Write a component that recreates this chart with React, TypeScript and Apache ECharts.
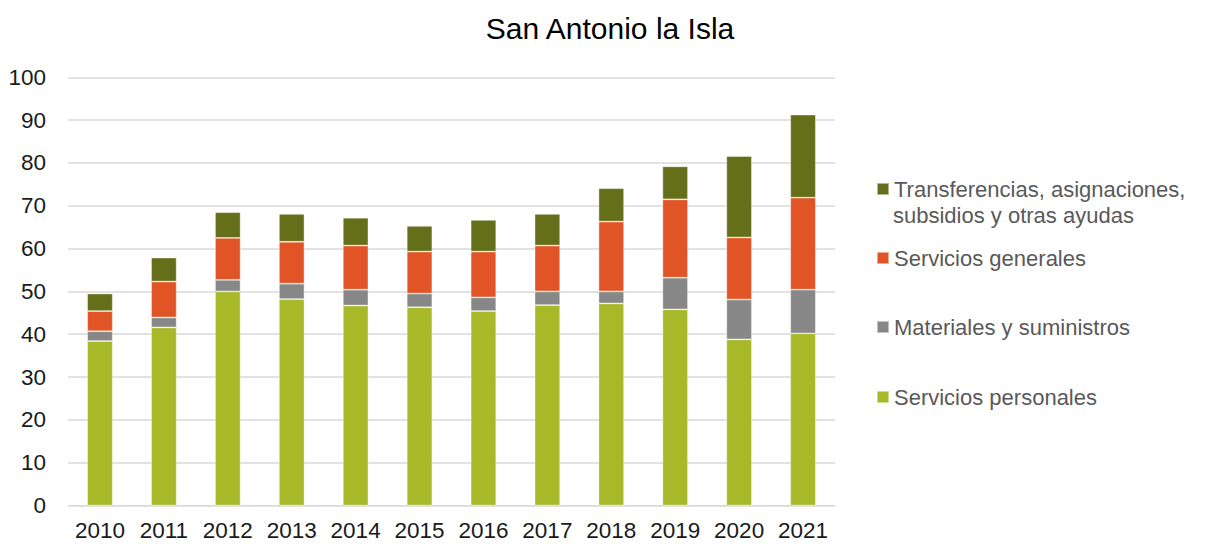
import React, { useEffect, useRef } from "react";
import * as echarts from "echarts";

const years = ["2010", "2011", "2012", "2013", "2014", "2015", "2016", "2017", "2018", "2019", "2020", "2021"];
const serviciosPersonales = [38.4, 41.6, 50.0, 48.2, 46.7, 46.3, 45.4, 46.8, 47.2, 45.8, 38.8, 40.2];
const materialesSuministros = [2.3, 2.3, 2.7, 3.6, 3.7, 3.2, 3.2, 3.2, 2.8, 7.4, 9.3, 10.2];
const serviciosGenerales = [4.7, 8.4, 9.8, 9.8, 10.3, 9.8, 10.7, 10.7, 16.3, 18.3, 14.5, 21.5];
const transferencias = [4.1, 5.6, 6.0, 6.5, 6.5, 6.0, 7.4, 7.4, 7.8, 7.7, 19.0, 19.4];

const seriesNames = [
  "Servicios personales",
  "Materiales y suministros",
  "Servicios generales",
  "Transferencias, asignaciones, subsidios y otras ayudas",
];
const seriesColors = ["#A7B829", "#878787", "#E15426", "#656E18"];
const legendTops = [397, 327, 258, 189];
const titleText = "San Antonio la Isla";
const FONT = "'Liberation Sans', Arial, sans-serif";

export default function App() {
  const ref = useRef<HTMLDivElement>(null);
  useEffect(() => {
    if (!ref.current) return;
    const chart = echarts.init(ref.current, undefined, { renderer: "svg" });
    const data = [serviciosPersonales, materialesSuministros, serviciosGenerales, transferencias];
    const series = data.map((d, i) => ({
      name: seriesNames[i],
      type: "bar",
      stack: "total",
      data: d,
      barWidth: "40%",
      itemStyle: { color: seriesColors[i], borderColor: "rgba(255,255,255,0.5)", borderWidth: 0.8 },
    }));
    const legends = seriesNames.map((n, i) => ({
      show: true,
      data: [n],
      left: 876,
      top: legendTops[i] - 12,
      padding: 0,
      itemWidth: 12,
      itemHeight: 12,
      itemGap: 5,
      icon: "rect",
      selectedMode: false,
      formatter: (name: string) => (i === 3 ? "Transferencias, asignaciones," : name),
      textStyle: { fontFamily: FONT, fontSize: 22, color: "#595959", lineHeight: 24, padding: [0, 0, 0, 0] },
    }));
    chart.setOption({
      animation: false,
      backgroundColor: "#ffffff",
      title: {
        text: titleText,
        left: "center",
        top: 8,
        textStyle: { fontFamily: FONT, fontSize: 30, fontWeight: "normal", color: "#000000" },
      },
      legend: legends,
      graphic: [
        {
          type: "text",
          left: 893,
          top: 204,
          style: { text: "subsidios y otras ayudas", fontFamily: FONT, fontSize: 22, fill: "#595959" },
        },
      ],
      grid: { left: 68, right: 385, top: 77.3, bottom: 41.5, containLabel: false },
      xAxis: {
        type: "category",
        data: years,
        axisLine: { show: true, lineStyle: { color: "#d9d9d9", width: 1 } },
        axisTick: { show: false },
        axisLabel: { interval: 0, fontFamily: FONT, fontSize: 22.5, color: "#1a1a1a", margin: 13 },
      },
      yAxis: {
        type: "value",
        min: 0,
        max: 100,
        interval: 10,
        axisLine: { show: false },
        axisTick: { show: false },
        splitLine: { lineStyle: { color: "#d9d9d9", width: 1.5 } },
        axisLabel: { fontFamily: FONT, fontSize: 22.5, color: "#1a1a1a", margin: 22 },
      },
      series,
    });
    return () => chart.dispose();
  }, []);
  return <div ref={ref} style={{ position: "absolute", left: 0, top: 0, width: 1220, height: 547 }} />;
}
